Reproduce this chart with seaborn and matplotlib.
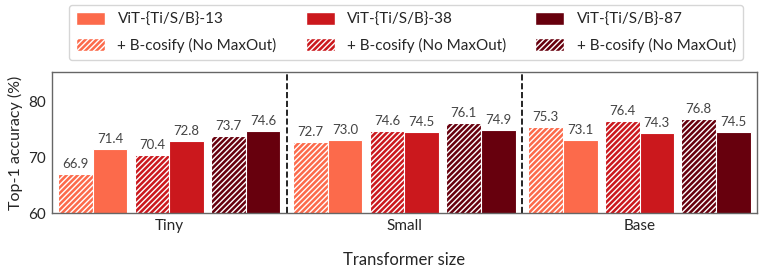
import numpy as np
import pandas as pd
import matplotlib
matplotlib.use("Agg")
import matplotlib.pyplot as plt
import matplotlib.patches as mpatches
import seaborn as sns

sns.set_style("white")
plt.rcParams['font.family'] = ['Lato', 'DejaVu Sans']
plt.rcParams['hatch.linewidth'] = 1.0

sizes = ["Tiny", "Small", "Base"]

# solid bars: plain ViT
acc_vit_13 = [71.4, 73.0, 73.1]
acc_vit_38 = [72.8, 74.5, 74.3]
acc_vit_87 = [74.6, 74.9, 74.5]
# hatched bars: + B-cosify (No MaxOut)
acc_bcos_13 = [66.9, 72.7, 75.3]
acc_bcos_38 = [70.4, 74.6, 76.4]
acc_bcos_87 = [73.7, 76.1, 76.8]

model_labels = ["ViT-{Ti/S/B}-13", "ViT-{Ti/S/B}-38", "ViT-{Ti/S/B}-87"]
bcos_label = "+ B-cosify (No MaxOut)"

model_colors = ["#fc6a4b", "#cb181d", "#67000d"]
hatch = "//////"

# order within each group: hatched then solid, per model
series = [acc_bcos_13, acc_vit_13, acc_bcos_38, acc_vit_38, acc_bcos_87, acc_vit_87]
keys = ["b13", "v13", "b38", "v38", "b87", "v87"]
rows = []
for key, vals in zip(keys, series):
    for s, v in zip(sizes, vals):
        rows.append({"size": s, "acc": v, "key": key})
df = pd.DataFrame(rows)
palette = [model_colors[i // 2] for i in range(6)]

fig = plt.figure(figsize=(7.62, 2.68), dpi=100)
ax = fig.add_axes([0.068, 0.205, 0.9255, 0.526])

group_w = 0.945
sns.barplot(data=df, x="size", y="acc", hue="key", hue_order=keys,
            palette=palette, saturation=1, width=group_w, ax=ax,
            legend=False, edgecolor="white", linewidth=0.8)

# regroup bars into touching pairs with a small gap between pairs
bar_w = 0.147
pair_gap = (group_w - 6 * bar_w) / 2
for k, cont in enumerate(ax.containers):
    p, m = divmod(k, 2)
    for gi, bar in enumerate(cont.patches):
        left = gi - group_w / 2 + p * (2 * bar_w + pair_gap) + m * bar_w
        bar.set_x(left)
        bar.set_width(bar_w)
        if m == 0:
            bar.set_hatch(hatch)
    ax.bar_label(cont, fmt="%.1f", padding=3, fontsize=9.5, color="#444444")

for xv in [0.5, 1.5]:
    ax.axvline(xv, color="black", linestyle="--", linewidth=1.2)

ax.set_xlim(-0.5, 2.5)
ax.set_ylim(60, 85.2)
ax.set_yticks([60, 70, 80])
ax.set_xlabel("Transformer size", fontsize=12, labelpad=14)
ax.set_ylabel("Top-1 accuracy (%)", fontsize=11.5)
ax.tick_params(axis="both", labelsize=11, length=0, pad=4)
for sp in ax.spines.values():
    sp.set_color("#666666")
    sp.set_linewidth(1.0)

handles, labels = [], []
for c, lab in zip(model_colors, model_labels):
    handles.append(mpatches.Patch(facecolor=c, edgecolor="white"))
    labels.append(lab)
    handles.append(mpatches.Patch(facecolor=c, edgecolor="white", hatch=hatch))
    labels.append(bcos_label)
fig.legend(handles, labels, ncol=3, loc="upper center",
           bbox_to_anchor=(0.5328, 1 - 5 / 268),
           fontsize=11, frameon=True, edgecolor="#cccccc", fancybox=True,
           handlelength=1.9, handleheight=0.9, handletextpad=0.8,
           columnspacing=1.9, labelspacing=0.75, borderpad=0.45,
           borderaxespad=0.0)

fig.savefig("out.png", dpi=100, facecolor="white")
